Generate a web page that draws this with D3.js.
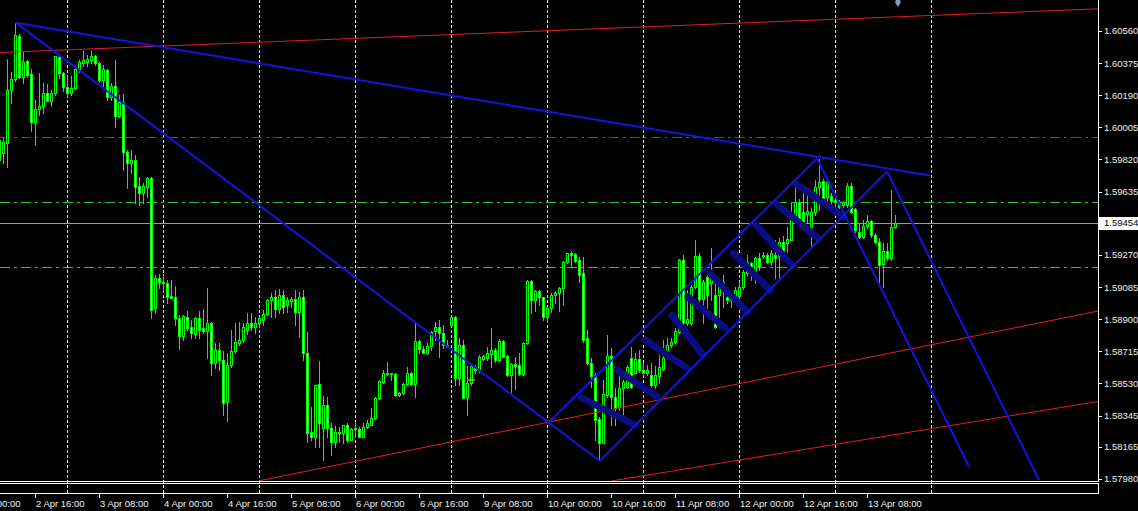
<!DOCTYPE html>
<html><head><meta charset="utf-8">
<script src="https://cdn.jsdelivr.net/npm/d3@7"></script>
<style>html,body{margin:0;padding:0;background:#000;overflow:hidden}</style>
</head><body>
<svg id="c" width="1138" height="511"></svg>
<script>
// ---- data (H1 bars, oldest first) ----
const open=[
1.59933,1.59858,1.59916,1.60221,1.60284,1.60531,1.60296,1.60387,1.60313,1.60036,
1.60111,1.60128,1.60204,1.60157,1.60204,1.60411,1.60319,1.60238,1.60204,1.60232,
1.60341,1.60376,1.60381,1.60393,1.60416,1.60376,1.60278,1.60336,1.60181,1.60243,
1.60070,1.60151,1.59863,1.59800,1.59817,1.59667,1.59628,1.59662,1.59714,1.58965,
1.59138,1.59114,1.59109,1.59034,1.59029,1.58907,1.58803,1.58913,1.58856,1.58815,
1.58907,1.58850,1.58832,1.58879,1.58648,1.58723,1.58665,1.58423,1.58636,1.58717,
1.58764,1.58781,1.58838,1.58879,1.58856,1.58879,1.58896,1.58930,1.59011,1.59029,
1.58959,1.59040,1.58982,1.59005,1.59017,1.58941,1.59029,1.58706,1.58250,1.58222,
1.58527,1.58274,1.58406,1.58274,1.58193,1.58250,1.58245,1.58291,1.58205,1.58268,
1.58268,1.58222,1.58280,1.58291,1.58331,1.58447,1.58538,1.58591,1.58585,1.58585,
1.58464,1.58476,1.58527,1.58591,1.58527,1.58775,1.58729,1.58706,1.58746,1.58832,
1.58856,1.58821,1.58752,1.58867,1.58913,1.58562,1.58752,1.58453,1.58533,1.58625,
1.58608,1.58671,1.58677,1.58700,1.58723,1.58665,1.58775,1.58688,1.58579,1.58642,
1.58636,1.58585,1.58764,1.59120,1.59011,1.59063,1.59029,1.58913,1.58965,1.59040,
1.59052,1.59080,1.59229,1.59282,1.59276,1.59241,1.59167,1.58792,1.58648,1.58579,
1.58325,1.58188,1.58464,1.58688,1.58453,1.58395,1.58504,1.58510,1.58677,1.58591,
1.58671,1.58608,1.58591,1.58579,1.58521,1.58573,1.58613,1.58706,1.58752,1.58769,
1.58826,1.59241,1.58879,1.58879,1.59086,1.59264,1.59017,1.59144,1.59109,1.59040,
1.59040,1.59097,1.59029,1.59011,1.59029,1.59034,1.59086,1.59167,1.59224,1.59155,
1.59253,1.59264,1.59270,1.59229,1.59270,1.59264,1.59345,1.59340,1.59357,1.59460,
1.59575,1.59517,1.59506,1.59432,1.59517,1.59662,1.59696,1.59605,1.59610,1.59587,
1.59575,1.59558,1.59558,1.59667,1.59535,1.59402,1.59374,1.59437,1.59466,1.59385,
1.59345,1.59218,1.59293,1.59253,1.59432];
const high=[
1.59961,1.59944,1.60399,1.60324,1.60607,1.60543,1.60439,1.60393,1.60341,1.60163,
1.60319,1.60261,1.60255,1.60221,1.60416,1.60416,1.60324,1.60301,1.60301,1.60347,
1.60393,1.60445,1.60422,1.60445,1.60422,1.60381,1.60364,1.60341,1.60261,1.60393,
1.60192,1.60198,1.59875,1.59875,1.59846,1.59720,1.59685,1.59720,1.59720,1.59155,
1.59161,1.59161,1.59126,1.59126,1.59091,1.58924,1.58924,1.58947,1.58896,1.58913,
1.58947,1.58959,1.59080,1.58884,1.58764,1.58764,1.58717,1.58706,1.58838,1.58879,
1.58884,1.58879,1.58936,1.58936,1.58913,1.58913,1.58953,1.59017,1.59052,1.59069,
1.59074,1.59069,1.59029,1.59029,1.59069,1.59057,1.59069,1.58826,1.58395,1.58521,
1.58659,1.58458,1.58453,1.58303,1.58285,1.58280,1.58291,1.58303,1.58274,1.58308,
1.58280,1.58303,1.58320,1.58389,1.58453,1.58550,1.58608,1.58653,1.58591,1.58591,
1.58481,1.58533,1.58625,1.58596,1.58879,1.58781,1.58746,1.58764,1.58832,1.58884,
1.58896,1.58867,1.58781,1.58918,1.58918,1.58792,1.58781,1.58630,1.58636,1.58636,
1.58694,1.58694,1.58741,1.58850,1.58735,1.58786,1.58781,1.58694,1.58648,1.58683,
1.58706,1.58769,1.59126,1.59126,1.59069,1.59069,1.59029,1.58971,1.59052,1.59063,
1.59086,1.59235,1.59282,1.59293,1.59282,1.59259,1.59259,1.58838,1.58677,1.58591,
1.58337,1.58550,1.58809,1.58735,1.58504,1.58591,1.58550,1.58636,1.58741,1.58706,
1.58723,1.58648,1.58636,1.58648,1.58630,1.58694,1.58781,1.58792,1.58792,1.58850,
1.59247,1.59270,1.59069,1.59097,1.59357,1.59282,1.59126,1.59172,1.59311,1.59109,
1.59126,1.59155,1.59069,1.59052,1.59086,1.59114,1.59184,1.59270,1.59229,1.59259,
1.59282,1.59287,1.59282,1.59299,1.59357,1.59368,1.59379,1.59432,1.59575,1.59662,
1.59593,1.59645,1.59645,1.59541,1.59702,1.59823,1.59708,1.59702,1.59628,1.59599,
1.59587,1.59581,1.59685,1.59685,1.59541,1.59455,1.59472,1.59500,1.59472,1.59397,
1.59368,1.59340,1.59340,1.59645,1.59500];
const low=[
1.59777,1.59800,1.59777,1.60146,1.60272,1.60290,1.60261,1.60296,1.59984,1.59904,
1.60076,1.60088,1.60157,1.60128,1.60192,1.60290,1.60215,1.60186,1.60192,1.60226,
1.60324,1.60358,1.60358,1.60376,1.60364,1.60266,1.60243,1.60163,1.60163,1.60008,
1.60065,1.59760,1.59656,1.59743,1.59570,1.59558,1.59570,1.59605,1.58907,1.58936,
1.59080,1.59057,1.58994,1.59023,1.58867,1.58729,1.58781,1.58838,1.58792,1.58792,
1.58792,1.58821,1.58677,1.58579,1.58619,1.58608,1.58348,1.58314,1.58625,1.58706,
1.58752,1.58769,1.58815,1.58838,1.58821,1.58856,1.58867,1.58924,1.58913,1.58913,
1.58936,1.58936,1.58941,1.58971,1.58867,1.58798,1.58665,1.58193,1.58205,1.58165,
1.58165,1.58089,1.58222,1.58118,1.58165,1.58193,1.58188,1.58193,1.58205,1.58222,
1.58222,1.58222,1.58274,1.58291,1.58325,1.58441,1.58533,1.58579,1.58550,1.58458,
1.58458,1.58470,1.58521,1.58521,1.58453,1.58706,1.58706,1.58700,1.58723,1.58781,
1.58683,1.58735,1.58741,1.58861,1.58521,1.58521,1.58447,1.58348,1.58521,1.58591,
1.58596,1.58665,1.58665,1.58625,1.58653,1.58659,1.58683,1.58573,1.58481,1.58498,
1.58579,1.58579,1.58758,1.58936,1.58947,1.58982,1.58896,1.58884,1.58941,1.58994,
1.58947,1.58982,1.59224,1.59201,1.59229,1.59114,1.58769,1.58636,1.58510,1.58205,
1.58089,1.58188,1.58453,1.58291,1.58291,1.58377,1.58320,1.58504,1.58504,1.58591,
1.58596,1.58591,1.58579,1.58510,1.58504,1.58533,1.58608,1.58694,1.58741,1.58764,
1.58821,1.58867,1.58867,1.58867,1.59080,1.58999,1.58879,1.58965,1.59011,1.58850,
1.58913,1.58971,1.58994,1.58971,1.58999,1.58994,1.59074,1.59155,1.59126,1.59109,
1.59184,1.59253,1.59224,1.59212,1.59138,1.59138,1.59282,1.59287,1.59357,1.59460,
1.59443,1.59414,1.59460,1.59317,1.59500,1.59529,1.59587,1.59547,1.59547,1.59547,
1.59541,1.59547,1.59547,1.59512,1.59402,1.59368,1.59368,1.59426,1.59374,1.59340,
1.59109,1.59086,1.59241,1.59241,1.59426];
const close=[
1.59817,1.59921,1.60221,1.60284,1.60537,1.60296,1.60381,1.60307,1.60036,1.60111,
1.60128,1.60204,1.60157,1.60204,1.60416,1.60319,1.60238,1.60204,1.60232,1.60341,
1.60381,1.60393,1.60399,1.60416,1.60376,1.60278,1.60341,1.60181,1.60243,1.60070,
1.60151,1.59863,1.59800,1.59817,1.59662,1.59628,1.59667,1.59714,1.58953,1.59138,
1.59114,1.59109,1.59029,1.59023,1.58907,1.58803,1.58918,1.58850,1.58821,1.58907,
1.58838,1.58832,1.58879,1.58648,1.58723,1.58665,1.58418,1.58636,1.58717,1.58769,
1.58781,1.58856,1.58879,1.58856,1.58879,1.58907,1.58930,1.59011,1.59029,1.58959,
1.59040,1.58971,1.59011,1.59017,1.58941,1.59029,1.58706,1.58245,1.58222,1.58521,
1.58303,1.58406,1.58274,1.58193,1.58250,1.58245,1.58291,1.58205,1.58268,1.58274,
1.58222,1.58280,1.58303,1.58331,1.58447,1.58544,1.58591,1.58585,1.58591,1.58464,
1.58476,1.58527,1.58591,1.58527,1.58775,1.58729,1.58706,1.58746,1.58826,1.58856,
1.58821,1.58752,1.58741,1.58913,1.58562,1.58752,1.58447,1.58533,1.58630,1.58608,
1.58683,1.58688,1.58706,1.58723,1.58665,1.58775,1.58683,1.58579,1.58642,1.58630,
1.58585,1.58764,1.59120,1.59011,1.59063,1.59029,1.58913,1.58965,1.59040,1.59052,
1.59080,1.59229,1.59282,1.59270,1.59235,1.59155,1.58781,1.58648,1.58573,1.58320,
1.58188,1.58470,1.58688,1.58453,1.58389,1.58504,1.58538,1.58625,1.58510,1.58671,
1.58608,1.58591,1.58608,1.58521,1.58579,1.58625,1.58677,1.58752,1.58769,1.58832,
1.59241,1.58879,1.58901,1.59086,1.59264,1.59017,1.59114,1.59040,1.59167,1.58856,
1.59109,1.59114,1.59011,1.59029,1.59069,1.59086,1.59172,1.59229,1.59201,1.59253,
1.59201,1.59270,1.59229,1.59282,1.59253,1.59345,1.59287,1.59362,1.59483,1.59575,
1.59483,1.59432,1.59523,1.59517,1.59662,1.59690,1.59599,1.59690,1.59581,1.59575,
1.59547,1.59575,1.59667,1.59517,1.59414,1.59374,1.59437,1.59466,1.59385,1.59345,
1.59212,1.59293,1.59253,1.59432,1.59454];

// axis labels
const priceTicks=[1.60560,1.60375,1.60190,1.60005,1.59820,1.59635,1.59270,1.59085,1.58900,1.58715,1.58530,1.58345,1.58165,1.57980];
const bidPrice=1.59454;
const timeTickIdx=[-7,9,25,41,57,73,89,105,121,137,153,169,185,201,217];
const timeLabels=["2 Apr 00:00","2 Apr 16:00","3 Apr 08:00","4 Apr 00:00","4 Apr 16:00","5 Apr 08:00","6 Apr 00:00","6 Apr 16:00","9 Apr 08:00","10 Apr 00:00","10 Apr 16:00","11 Apr 08:00","12 Apr 00:00","12 Apr 16:00","13 Apr 08:00"];
const dayGridIdx=[17,41,65,89,113,137,161,185,209,233];

// drawn objects: [barIndex1, price1, barIndex2, price2]
const blueLines=[[4.1,1.60608,232.6,1.59728],[4.1,1.60608,150.1,1.58084],[136.9,1.58297,204.4,1.59826],[150.1,1.58084,221.9,1.59751],[204.4,1.59826,242.4,1.58049],[221.9,1.59751,259.9,1.57974]];
const redLines=[[0,1.60436,275,1.60688],[64.95,1.57970,275,1.58949],[153.1,1.57969,275,1.58428]];
const hatchLines=[[145.1,1.58453,158.9,1.58291],[154.4,1.58608,164.4,1.58453],[161.4,1.58781,171.9,1.58619],[168.1,1.58924,175.9,1.58694],[172.1,1.59029,181.4,1.58850],[177.6,1.59167,186.9,1.58941],[183.4,1.59282,192.6,1.59069],[189.1,1.59443,198.1,1.59212],[193.9,1.59570,204.6,1.59368],[198.9,1.59685,210.9,1.59489]];
const redLevels=[1.59950];
const greenLevels=[1.59573,1.59199];
const yellowMark=[117.2,1.58550,118.9,1.58550];
const diamondMark=[224.6,1.60727];

// ---- drawing ----
const W=1138,H=511,PR=1098,PB=481;
const FONT='Liberation Sans, Arial, sans-serif';
const x=d3.scaleLinear().domain([0,275]).range([-0.5,1099.5]);
const y=d3.scaleLinear().domain([1.57980,1.60560]).range([479,31]);
const svg=d3.select('#c');
svg.append('rect').attr('width',W).attr('height',H).attr('fill','#000');
const defs=svg.append('defs');
defs.append('clipPath').attr('id','plot').append('rect').attr('x',0).attr('y',0).attr('width',PR).attr('height',PB);
defs.append('clipPath').attr('id','gridclip').append('rect').attr('x',0).attr('y',0).attr('width',PR).attr('height',494);

// vertical day grid
svg.append('g').attr('clip-path','url(#gridclip)').selectAll('line').data(dayGridIdx).join('line')
  .attr('x1',d=>x(d)).attr('x2',d=>x(d)).attr('y1',0).attr('y2',494)
  .attr('stroke','#e6e6e6').attr('stroke-width',1).attr('stroke-dasharray','3,2');

const g=svg.append('g').attr('clip-path','url(#plot)');
const snap=v=>Math.round(v)+0.5;
// horizontal levels
g.selectAll('.rl').data(redLevels).join('line').attr('x1',0).attr('x2',PR)
  .attr('y1',d=>snap(y(d))).attr('y2',d=>snap(y(d))).attr('stroke','#d21c1c').attr('stroke-dasharray','10,4,3,4');
g.selectAll('.gl').data(greenLevels).join('line').attr('x1',0).attr('x2',PR)
  .attr('y1',d=>snap(y(d))).attr('y2',d=>snap(y(d))).attr('stroke','#2fc62f').attr('stroke-dasharray','10,4,3,4');
g.append('line').attr('x1',0).attr('x2',PR).attr('y1',snap(y(bidPrice))).attr('y2',snap(y(bidPrice))).attr('stroke','#8f9aa6');

// candles
const bars=open.map((o,j)=>({j,o,h:high[j],l:low[j],c:close[j]}));
const cg=g.append('g');
bars.forEach(d=>{
  const cx=x(d.j);
  const yh=Math.round(y(d.h)), yl=Math.round(y(d.l));
  cg.append('line').attr('x1',cx).attr('x2',cx).attr('y1',yh).attr('y2',yl+1).attr('stroke','#00ff00');
  const t=Math.round(y(Math.max(d.o,d.c))), b=Math.round(y(Math.min(d.o,d.c)));
  if(b-t<1){
    cg.append('line').attr('x1',cx-1.5).attr('x2',cx+1.5).attr('y1',t+0.5).attr('y2',t+0.5).attr('stroke','#00ff00');
  } else {
    cg.append('rect').attr('x',cx-1).attr('y',t+0.5).attr('width',2).attr('height',b-t)
      .attr('fill',d.c>=d.o?'#000':'#fff').attr('stroke','#00ff00').attr('stroke-width',1);
  }
});

// objects
const seg=(sel,data,color,w,cap)=>sel.selectAll(null).data(data).join('line')
  .attr('x1',d=>x(d[0])).attr('y1',d=>y(d[1])).attr('x2',d=>x(d[2])).attr('y2',d=>y(d[3]))
  .attr('stroke',color).attr('stroke-width',w).attr('stroke-linecap',cap||'butt');
seg(g.append('g'),redLines,'#e81c1c',1);
seg(g.append('g'),hatchLines,'#0c0c82',7,'round');
seg(g.append('g'),blueLines,'#1414e0',2);
seg(g.append('g'),[yellowMark],'#ffff00',1);
g.append('path').attr('d',d3.symbol(d3.symbolDiamond,30)())
  .attr('transform',`translate(${x(diamondMark[0])},${y(diamondMark[1])})`).attr('fill','#8d9cad');

// frame
svg.append('line').attr('x1',PR+0.5).attr('x2',PR+0.5).attr('y1',0).attr('y2',PB+1).attr('stroke','#fff');
svg.append('line').attr('x1',0).attr('x2',PR+1).attr('y1',PB+0.5).attr('y2',PB+0.5).attr('stroke','#fff');
svg.append('rect').attr('x',-1.5).attr('y',483.5).attr('width',PR+2).attr('height',10).attr('fill','none').attr('stroke','#fff');

// price axis
const pa=svg.append('g');
pa.selectAll('line').data(priceTicks).join('line').attr('x1',PR+1).attr('x2',PR+4)
  .attr('y1',d=>snap(y(d))).attr('y2',d=>snap(y(d))).attr('stroke','#fff');
pa.selectAll('text').data(priceTicks).join('text').attr('x',PR+6).attr('y',d=>y(d)).attr('dy','0.36em')
  .attr('fill','#f2f2f2').attr('font-family',FONT).attr('font-size','9.5px')
  .text(d=>d.toFixed(5));
const by=Math.round(y(bidPrice));
pa.append('rect').attr('x',PR+1).attr('y',by-6).attr('width',W-PR).attr('height',13).attr('fill','#fff');
pa.append('text').attr('x',PR+6).attr('y',y(bidPrice)).attr('dy','0.36em').attr('fill','#000')
  .attr('font-family',FONT).attr('font-size','9.5px').text(bidPrice.toFixed(5));

// time axis
const ta=svg.append('g');
ta.selectAll('line').data(timeTickIdx).join('line').attr('x1',d=>x(d)).attr('x2',d=>x(d))
  .attr('y1',494).attr('y2',498).attr('stroke','#fff');
ta.selectAll('text').data(timeTickIdx).join('text').attr('x',d=>x(d)+0.5).attr('y',507)
  .attr('fill','#f2f2f2').attr('font-family',FONT).attr('font-size','9.5px')
  .text((d,k)=>timeLabels[k]);
</script>
</body></html>
